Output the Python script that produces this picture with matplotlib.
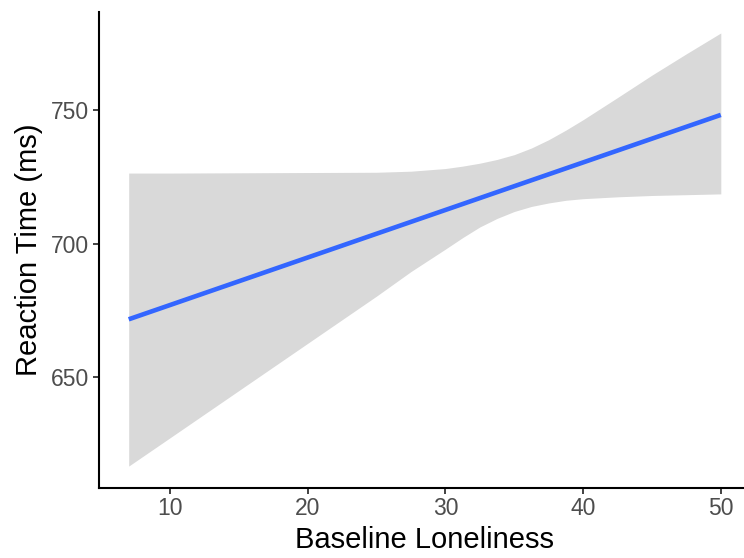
import numpy as np
import matplotlib.pyplot as plt

plt.rcParams['font.family'] = ['Liberation Sans', 'DejaVu Sans']

# fitted line (baseline loneliness -> reaction time)
fit_x = [7, 50]
fit_y = [671.7, 748.3]

# confidence band, upper and lower edges
band_x = [7, 10, 15, 20, 25, 27.5, 30, 31.25, 32.5, 33.75, 35, 36.25, 37.5,
          38.75, 40, 42.5, 45, 47.5, 50]
band_hi = [726.5, 726.5, 726.6, 726.7, 726.8, 727.2, 728.2, 729.1, 730.2, 731.6,
           733.4, 735.9, 739.0, 742.6, 746.5, 754.8, 763.2, 771.2, 779.0]
band_lo = [616.7, 627.3, 645.0, 662.7, 680.4, 689.6, 698.0, 702.3, 706.3, 709.5,
           712.1, 714.0, 715.3, 716.3, 716.9, 717.6, 718.1, 718.4, 718.7]

x_ticks = [10, 20, 30, 40, 50]
y_ticks = [650, 700, 750]

fig = plt.figure(figsize=(7.44, 5.58), dpi=100)
ax = fig.add_axes([0.1332, 0.126, 0.8754, 0.8527])

ax.fill_between(band_x, band_lo, band_hi, color='#d9d9d9', linewidth=0, zorder=1)
ax.plot(fit_x, fit_y, color='#3366ff', linewidth=3.3, solid_capstyle='butt', zorder=2)

ax.set_xlim(4.85, 52.15)
ax.set_ylim(608.6, 786.9)
ax.set_xticks(x_ticks)
ax.set_yticks(y_ticks)

for side in ['top', 'right']:
    ax.spines[side].set_visible(False)
for side in ['left', 'bottom']:
    ax.spines[side].set_linewidth(1.5)
    ax.spines[side].set_color('black')

ax.tick_params(axis='both', length=4, width=1.3, color='#333333',
               labelsize=16.5, labelcolor='#4d4d4d', pad=3)

ax.set_xlabel('Baseline Loneliness', fontsize=21, color='black', labelpad=4)
ax.set_ylabel('Reaction Time (ms)', fontsize=21, color='black', labelpad=6)

fig.savefig('out.png', dpi=100)
